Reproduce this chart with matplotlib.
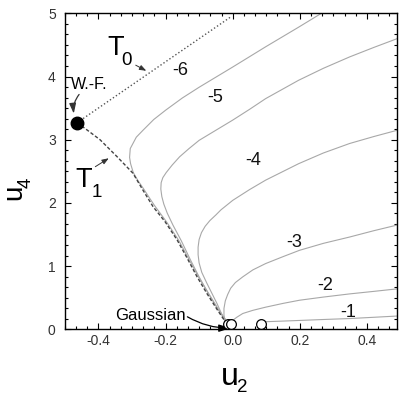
import matplotlib
matplotlib.use("Agg")
import matplotlib.pyplot as plt
from matplotlib.ticker import MultipleLocator, AutoMinorLocator

plt.rcParams['font.family'] = ['Liberation Sans', 'DejaVu Sans']
plt.rcParams['axes.unicode_minus'] = False

# flow lines (u2, u4)
T0_u2 = [-0.463, -0.004]
T0_u4 = [3.27, 4.95]

T1_u2 = [-0.463, -0.430, -0.395, -0.344, -0.297, -0.267, -0.237, -0.201,
         -0.165, -0.136, -0.106, -0.076, -0.046, -0.022, -0.010]
T1_u4 = [3.27, 3.14, 3.00, 2.73, 2.47, 2.20, 1.94, 1.70, 1.41, 1.13, 0.83,
         0.56, 0.31, 0.12, 0.04]

c6_u2 = [-0.006, -0.042, -0.102, -0.161, -0.197, -0.233, -0.248, -0.265,
         -0.283, -0.296, -0.304, -0.307, -0.305, -0.297, -0.287, -0.267,
         -0.235, -0.199, -0.150, -0.100, -0.050, 0.000, 0.098, 0.196, 0.264]
c6_u4 = [0.04, 0.31, 0.83, 1.41, 1.70, 1.96, 2.08, 2.22, 2.36, 2.48, 2.62,
         2.72, 2.86, 2.94, 3.04, 3.15, 3.32, 3.47, 3.66, 3.83, 3.99, 4.15,
         4.47, 4.78, 5.00]

c5_u2 = [-0.008, -0.043, -0.072, -0.100, -0.126, -0.153, -0.178, -0.195,
         -0.205, -0.211, -0.214, -0.213, -0.208, -0.198, -0.180, -0.158,
         -0.130, -0.100, -0.050, 0.000, 0.050, 0.098, 0.196, 0.270, 0.348,
         0.420, 0.490]
c5_u4 = [0.04, 0.31, 0.56, 0.83, 1.10, 1.40, 1.65, 1.84, 1.98, 2.10, 2.22,
         2.32, 2.40, 2.48, 2.60, 2.73, 2.86, 2.99, 3.15, 3.31, 3.48, 3.65,
         3.94, 4.13, 4.31, 4.46, 4.60]

c4_u2 = [-0.010, -0.025, -0.047, -0.077, -0.092, -0.100, -0.103, -0.103,
         -0.100, -0.093, -0.082, -0.068, -0.050, -0.035, 0.000, 0.050,
         0.098, 0.196, 0.270, 0.348, 0.420, 0.490]
c4_u4 = [0.04, 0.15, 0.41, 0.73, 0.90, 1.05, 1.18, 1.30, 1.42, 1.53, 1.63,
         1.72, 1.81, 1.89, 2.04, 2.21, 2.36, 2.62, 2.79, 2.94, 3.05, 3.15]

c3_u2 = [-0.012, -0.022, -0.026, -0.026, -0.022, -0.015, -0.006, 0.008,
         0.030, 0.060, 0.098, 0.150, 0.199, 0.270, 0.348, 0.420, 0.490]
c3_u4 = [0.05, 0.12, 0.22, 0.33, 0.45, 0.55, 0.65, 0.74, 0.83, 0.94, 1.04,
         1.15, 1.25, 1.36, 1.46, 1.56, 1.65]

c2_u2 = [-0.014, -0.008, 0.000, 0.012, 0.030, 0.060, 0.098, 0.150, 0.199,
         0.270, 0.348, 0.420, 0.490]
c2_u4 = [0.08, 0.11, 0.14, 0.19, 0.25, 0.30, 0.35, 0.41, 0.46, 0.51, 0.56,
         0.60, 0.64]

c1_u2 = [0.085, 0.098, 0.150, 0.199, 0.270, 0.348, 0.420, 0.490]
c1_u4 = [0.10, 0.12, 0.13, 0.14, 0.155, 0.17, 0.19, 0.21]

curves = [(c6_u2, c6_u4), (c5_u2, c5_u4), (c4_u2, c4_u4),
          (c3_u2, c3_u4), (c2_u2, c2_u4), (c1_u2, c1_u4)]
curve_labels = ["-6", "-5", "-4", "-3", "-2", "-1"]
label_u2 = [-0.156, -0.053, 0.060, 0.184, 0.275, 0.343]
label_u4 = [4.02, 3.60, 2.60, 1.31, 0.62, 0.195]

open_u2 = [-0.015, -0.004, 0.085]
open_u4 = [0.09, 0.09, 0.09]
wf_u2, wf_u4 = -0.463, 3.27

fig = plt.figure(figsize=(3.99, 3.93), dpi=100)
ax = fig.add_axes([0.1623, 0.1621, 0.8334, 0.804])

for u2, u4 in curves:
    ax.plot(u2, u4, color='#a8a8a8', lw=0.8, zorder=2,
            solid_joinstyle='round')
ax.plot(T0_u2, T0_u4, color='#555555', lw=1.0, ls=(0, (1, 1.6)), zorder=3)
ax.plot(T1_u2, T1_u4, color='#444444', lw=1.0, ls=(0, (2.5, 1.5)), zorder=3)

ax.plot(open_u2, open_u4, 'o', ms=7, mfc='white', mec='black', mew=0.9,
        zorder=5, clip_on=False)
ax.plot([wf_u2], [wf_u4], 'o', ms=9, color='black', zorder=5)

for s, x, y in zip(curve_labels, label_u2, label_u4):
    ax.text(x, y, s, fontsize=13, ha='center', va='baseline', color='#111111')

# T0 / T1 labels with arrows
ax.text(-0.348, 4.34, "T", fontsize=19.5, ha='center', va='baseline')
ax.text(-0.316, 4.18, "0", fontsize=13.5, ha='center', va='baseline')
ax.annotate('', xy=(-0.250, 4.07), xytext=(-0.296, 4.20),
            arrowprops=dict(arrowstyle='-|>,head_length=0.4,head_width=0.15',
                            color='#333333', lw=0.7))
ax.text(-0.445, 2.256, "T", fontsize=19.5, ha='center', va='baseline')
ax.text(-0.405, 2.10, "1", fontsize=13.5, ha='center', va='baseline')
ax.annotate('', xy=(-0.362, 2.73), xytext=(-0.416, 2.55),
            arrowprops=dict(arrowstyle='-|>,head_length=0.4,head_width=0.15',
                            color='#333333', lw=0.7))

ax.text(-0.427, 3.80, "W.-F.", fontsize=11.5, ha='center', va='baseline')
ax.annotate('', xy=(-0.472, 3.37), xytext=(-0.452, 3.75),
            arrowprops=dict(arrowstyle='-|>,head_length=0.6,head_width=0.2',
                            color='#333333', lw=0.9,
                            connectionstyle='arc3,rad=0.25'))

ax.text(-0.2435, 0.147, "Gaussian", fontsize=12, ha='center', va='baseline')
ax.annotate('', xy=(0.002, 0.02), xytext=(-0.142, 0.22),
            arrowprops=dict(arrowstyle='-|>,head_length=0.7,head_width=0.22',
                            color='black', lw=0.9,
                            connectionstyle='arc3,rad=0.15'))

ax.set_xlim(-0.5, 0.49)
ax.set_ylim(0, 5)
ax.xaxis.set_major_locator(MultipleLocator(0.2))
ax.xaxis.set_minor_locator(AutoMinorLocator(6))
ax.yaxis.set_major_locator(MultipleLocator(1))
ax.yaxis.set_minor_locator(AutoMinorLocator(6))
ax.set_xticks([-0.4, -0.2, 0.0, 0.2, 0.4])
ax.set_xticklabels(["-0.4", "-0.2", "0.0", "0.2", "0.4"])
ax.tick_params(which='both', direction='in', top=True, right=True,
               width=0.8, labelsize=10, labelcolor='#333333')
ax.tick_params(which='major', length=4)
ax.tick_params(which='minor', length=2.2)
ax.tick_params(axis='x', pad=3.6)
ax.tick_params(axis='y', pad=6.5)
for sp in ax.spines.values():
    sp.set_linewidth(1.0)

# axis titles
fig.text(229.5 / 399, 8 / 393, "u", fontsize=23, ha='center', va='baseline')
fig.text(242 / 399, 1.5 / 393, "2", fontsize=13.5, ha='center', va='baseline')
fig.text(21 / 399, 1 - 192.5 / 393, "u", fontsize=20, ha='center',
         va='baseline', rotation=90, rotation_mode='anchor')
fig.text(30.5 / 399, 1 - 183 / 393, "4", fontsize=13.5, ha='center',
         va='baseline', rotation=90, rotation_mode='anchor')

fig.savefig("out.png", dpi=100)
